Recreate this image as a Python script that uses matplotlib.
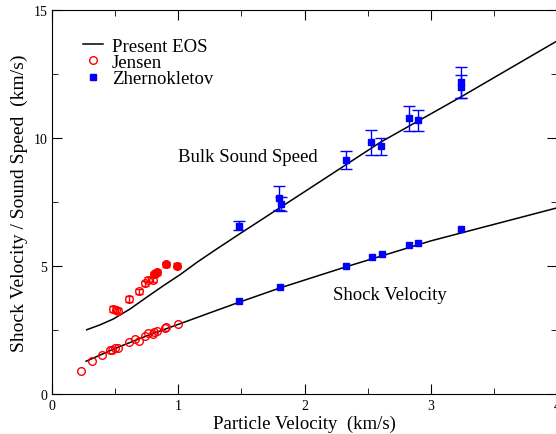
import matplotlib
matplotlib.use("Agg")
import matplotlib.pyplot as plt
from matplotlib.ticker import MultipleLocator

plt.rcParams['font.family'] = ['Liberation Serif', 'DejaVu Serif']

# Present EOS curves
eos_up_bulk = [0.275, 0.38, 0.486, 0.618, 0.75, 0.882, 1.014, 1.15, 1.3, 1.5, 2.0, 2.6, 3.237, 4.0]
eos_bulk = [2.51, 2.70, 2.93, 3.32, 3.78, 4.23, 4.66, 5.15, 5.65, 6.30, 7.90, 9.83, 11.6, 13.79]
eos_up_shock = [0.27, 0.5, 0.75, 1.0, 1.25, 1.48, 1.81, 2.33, 3.0, 4.0]
eos_shock = [1.28, 1.78, 2.27, 2.72, 3.17, 3.58, 4.15, 4.97, 5.98, 7.27]

# Jensen shock velocity (open circles)
jen_up = [0.232, 0.317, 0.393, 0.459, 0.473, 0.499, 0.52, 0.607, 0.657, 0.692,
          0.739, 0.758, 0.803, 0.811, 0.829, 0.895, 0.9, 0.995]
jen_us = [0.91, 1.28, 1.52, 1.72, 1.73, 1.78, 1.78, 2.02, 2.15, 2.07,
          2.25, 2.39, 2.36, 2.42, 2.45, 2.57, 2.6, 2.73]

# Jensen bulk sound speed
jen_up_c = [0.486, 0.507, 0.52, 0.607, 0.692, 0.739, 0.763, 0.797]
jen_c = [3.32, 3.28, 3.25, 3.71, 4.01, 4.32, 4.46, 4.46]
jen_up_cf = [0.808, 0.824, 0.834, 0.903, 0.993]
jen_cf = [4.67, 4.73, 4.75, 5.06, 5.01]
jen_err = 0.1

# Zhernokletov shock velocity
zh_up = [1.479, 1.806, 2.329, 2.535, 2.61, 2.828, 2.899, 3.237]
zh_us = [3.62, 4.19, 4.99, 5.35, 5.47, 5.83, 5.90, 6.45]

# Zhernokletov bulk sound speed with error
zh_up_c = [1.479, 1.80, 1.811, 2.33, 2.527, 2.608, 2.828, 2.899, 3.237, 3.237]
zh_c = [6.58, 7.66, 7.42, 9.15, 9.83, 9.67, 10.77, 10.70, 12.17, 12.0]
zh_cerr = [0.17, 0.46, 0.26, 0.35, 0.50, 0.33, 0.49, 0.41, 0.62, 0.45]

fig = plt.figure(figsize=(5.56, 4.35), dpi=100)
ax = fig.add_axes([52 / 556, 40 / 435, 505 / 556, 384 / 435])

ax.plot(eos_up_bulk, eos_bulk, color='black', lw=1.1, label='Present EOS')
ax.plot(eos_up_shock, eos_shock, color='black', lw=1.1)

ax.plot(jen_up, jen_us, 'o', mfc='none', mec='red', ms=5.5, mew=1.0,
        ls='none', label='Jensen')
ax.errorbar(jen_up_c, jen_c, yerr=jen_err, fmt='o', mfc='none', mec='red',
            ecolor='red', ms=5.5, mew=1.0, capsize=3, elinewidth=1)
ax.errorbar(jen_up_cf, jen_cf, yerr=jen_err, fmt='o', color='red',
            ms=5.5, capsize=3, elinewidth=1)

ax.plot(zh_up, zh_us, 's', color='blue', ms=5, ls='none', label='Zhernokletov')
ax.errorbar(zh_up_c, zh_c, yerr=zh_cerr, fmt='s', color='blue', ecolor='blue',
            ms=5, capsize=4, elinewidth=1)

ax.text(1.55, 9.26, 'Bulk Sound Speed', ha='center', va='center', fontsize=13.5)
ax.text(2.68, 3.87, 'Shock Velocity', ha='center', va='center', fontsize=13.5)

ax.set_xlim(0, 4)
ax.set_ylim(0, 15)
ax.xaxis.set_major_locator(MultipleLocator(1))
ax.xaxis.set_minor_locator(MultipleLocator(0.5))
ax.yaxis.set_major_locator(MultipleLocator(5))
ax.yaxis.set_minor_locator(MultipleLocator(2.5))
ax.tick_params(which='both', direction='in', top=True, right=True, labelsize=10)
ax.tick_params(which='major', length=7)
ax.tick_params(which='minor', length=4)

ax.set_xlabel('Particle Velocity  (km/s)', fontsize=13.5, labelpad=2)
ax.set_ylabel('Shock Velocity / Sound Speed  (km/s)', fontsize=14, labelpad=4)

ax.legend(loc='upper left', bbox_to_anchor=(0.035, 0.962), frameon=False,
          fontsize=13.5, handlelength=1.1, handletextpad=0.45,
          labelspacing=-0.05, borderpad=0.2)

fig.savefig('out.png', dpi=100)
